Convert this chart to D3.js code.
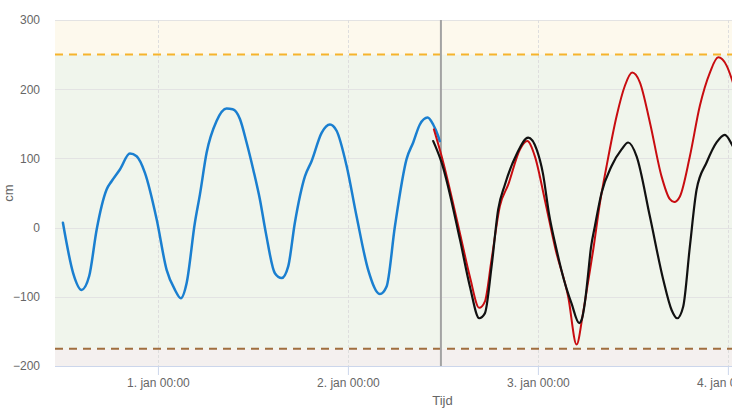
<!DOCTYPE html>
<html>
<head>
<meta charset="utf-8">
<script src="https://cdn.jsdelivr.net/npm/d3@7"></script>
<style>
  html, body { margin: 0; padding: 0; background: #fff; overflow: hidden; }
  svg { display: block; font-family: "Liberation Sans", Arial, sans-serif; }
</style>
</head>
<body>
<svg id="chart" width="732" height="414"></svg>
<script>
// ---- data (hours since 1 jan 00:00, values in cm) ----
const baseTime = Date.UTC(2024, 0, 1, 0, 0);
const domainHours = [-13, 84.9];
const nowHour = 35.75;

const measuredHours = [-12, -10.7, -9.64, -8.68, -7.74, -6.48, -5.85, -4.8, -3.54, -2.69,
  -1.64, -0.16, 1.1, 2.15, 2.9, 3.63, 4.67, 5.31, 6.15, 7.41,
  8.68, 9.44, 10.36, 11.2, 12.04, 12.88, 13.64, 14.78, 15.63, 16.46,
  17.3, 18.57, 19.41, 20.68, 21.73, 22.57, 23.84, 25.1, 26.56, 28.04,
  28.89, 29.94, 31.41, 32.25, 33.09, 34.07, 34.77, 35.41, 35.6];
const measuredValues = [7, -66, -90, -70, -3, 55, 67, 84, 107, 103,
  79, 12, -61, -90, -102, -80, 7, 48, 108, 154,
  172, 171, 157, 123, 84, 41, -8, -66, -73, -56,
  7, 74, 96, 137, 149, 140, 89, 16, -61, -96,
  -85, 2, 99, 123, 149, 159, 149, 132, 125];

const forecastHours = [34.86, 35.84, 38.15, 39.41, 40.59, 41.3, 42.15, 43.2, 44.25, 45.73,
  46.65, 47.62, 48.88, 50.24, 51.83, 52.89, 53.68, 54.32, 54.99, 55.83,
  56.68, 57.94, 58.99, 59.91, 60.88, 62.15, 63.62, 64.67, 65.22, 65.94,
  67.2, 68.46, 69.73, 70.78, 71.84, 72.51, 74.0, 76.0];
const forecastValues = [142, 103, -8, -71, -116, -107, -46, 31, 62, 113,
  125, 103, 40, -32, -100, -169, -125, -80, -32, 35,
  89, 161, 205, 224, 210, 152, 74, 41, 37, 45,
  103, 176, 224, 246, 234, 214, 150, 60];

const astroHours = [34.78, 35.84, 38.15, 39.41, 40.59, 41.3, 42.15, 42.98, 43.83, 45.31,
  46.78, 47.84, 48.64, 49.39, 50.36, 51.28, 52.26, 53.22, 53.56, 53.94,
  54.32, 54.69, 55.2, 56.04, 57.31, 58.57, 59.41, 60.47, 62.15, 63.83,
  64.89, 65.6, 66.36, 67.2, 68.05, 69.31, 70.57, 71.62, 72.51, 74.0];
const astroValues = [125, 94, -17, -85, -131, -124, -56, 26, 62, 106,
  130, 113, 78, 21, -32, -75, -110, -138, -132, -108,
  -70, -30, 2, 50, 89, 113, 123, 103, 16, -75,
  -119, -131, -114, -27, 55, 94, 123, 134, 120, 80];

const yTicks = [-200, -100, 0, 100, 200, 300];
const xTickHours = [0, 24, 48, 72];
const xTickLabels = ["1. jan 00:00", "2. jan 00:00", "3. jan 00:00", "4. jan 00:00"];
const upperLimit = 250;
const lowerLimit = -175;
const yDomain = [-200, 300];
const yLabel = "cm";
const xLabel = "Tijd";

// ---- layout ----
const toDate = h => new Date(baseTime + h * 3600e3);
const plot = { left: 55, top: 20, right: 830, bottom: 366 };

const svg = d3.select("#chart");
const x = d3.scaleUtc().domain(domainHours.map(toDate)).range([plot.left, plot.right]);
const y = d3.scaleLinear().domain(yDomain).range([plot.bottom, plot.top]);

svg.append("defs").append("clipPath").attr("id", "clip")
  .append("rect").attr("x", plot.left).attr("y", plot.top)
  .attr("width", plot.right - plot.left).attr("height", plot.bottom - plot.top);

// bands
const bands = [
  { from: upperLimit, to: yDomain[1], color: "#fdf9ed" },
  { from: lowerLimit, to: upperLimit, color: "#f0f5ec" },
  { from: yDomain[0], to: lowerLimit, color: "#f4f0ef" }
];
svg.append("g").selectAll("rect").data(bands).join("rect")
  .attr("x", plot.left).attr("width", plot.right - plot.left)
  .attr("y", d => y(d.to)).attr("height", d => y(d.from) - y(d.to))
  .attr("fill", d => d.color);

// horizontal grid
svg.append("g").selectAll("line").data(yTicks.filter(v => v !== yDomain[0])).join("line")
  .attr("x1", plot.left).attr("x2", plot.right)
  .attr("y1", d => Math.round(y(d)) + 0.5).attr("y2", d => Math.round(y(d)) + 0.5)
  .attr("stroke", "#e3e3e3").attr("stroke-width", 1);

// vertical grid
svg.append("g").selectAll("line").data(xTickHours).join("line")
  .attr("x1", d => Math.round(x(toDate(d))) + 0.5).attr("x2", d => Math.round(x(toDate(d))) + 0.5)
  .attr("y1", plot.top).attr("y2", plot.bottom)
  .attr("stroke", "#dedede").attr("stroke-width", 1).attr("stroke-dasharray", "3,2");

// limit lines
svg.append("line")
  .attr("x1", plot.left).attr("x2", plot.right)
  .attr("y1", y(upperLimit)).attr("y2", y(upperLimit))
  .attr("stroke", "#f6b42c").attr("stroke-width", 2).attr("stroke-dasharray", "8,6");
svg.append("line")
  .attr("x1", plot.left).attr("x2", plot.right)
  .attr("y1", y(lowerLimit)).attr("y2", y(lowerLimit))
  .attr("stroke", "#a06e3e").attr("stroke-width", 2).attr("stroke-dasharray", "8,6");

// now line
svg.append("line")
  .attr("x1", x(toDate(nowHour))).attr("x2", x(toDate(nowHour)))
  .attr("y1", plot.top).attr("y2", plot.bottom)
  .attr("stroke", "#a3a3a3").attr("stroke-width", 2);

// series
const line = d3.line().x(d => x(toDate(d[0]))).y(d => y(d[1])).curve(d3.curveMonotoneX);
const series = [
  { hours: measuredHours, values: measuredValues, color: "#1a7fd0", width: 2.5 },
  { hours: forecastHours, values: forecastValues, color: "#c80c10", width: 2 },
  { hours: astroHours, values: astroValues, color: "#111111", width: 2.2 }
];
svg.append("g").attr("clip-path", "url(#clip)").selectAll("path").data(series).join("path")
  .attr("d", s => line(s.hours.map((h, i) => [h, s.values[i]])))
  .attr("fill", "none").attr("stroke", s => s.color).attr("stroke-width", s => s.width)
  .attr("stroke-linejoin", "round").attr("stroke-linecap", "round");

// x axis
const xAxis = d3.axisBottom(x)
  .tickValues(xTickHours.map(toDate))
  .tickFormat((d, i) => xTickLabels[i])
  .tickSize(9).tickPadding(3).tickSizeOuter(0);
const gx = svg.append("g").attr("transform", `translate(0,${plot.bottom})`).call(xAxis);
gx.select(".domain").attr("stroke", "#ccd6eb").attr("d", `M${plot.left},0.5H${plot.right}`);
gx.selectAll(".tick line").attr("stroke", "#ccd6eb");
gx.selectAll(".tick text").attr("fill", "#666").attr("font-size", 12)
  .attr("font-family", "Liberation Sans, Arial, sans-serif");

// y axis
const yAxis = d3.axisLeft(y).tickValues(yTicks).tickSize(0).tickPadding(15);
const gy = svg.append("g").attr("transform", `translate(${plot.left},0)`).call(yAxis);
gy.select(".domain").remove();
gy.selectAll(".tick text").attr("fill", "#666").attr("font-size", 12)
  .attr("font-family", "Liberation Sans, Arial, sans-serif");

// axis titles
svg.append("text")
  .attr("transform", `translate(13,${(plot.top + plot.bottom) / 2}) rotate(-90)`)
  .attr("text-anchor", "middle").attr("fill", "#666").attr("font-size", 13)
  .text(yLabel);
svg.append("text")
  .attr("x", (plot.left + plot.right) / 2).attr("y", 405)
  .attr("text-anchor", "middle").attr("fill", "#666").attr("font-size", 13)
  .text(xLabel);
</script>
</body>
</html>
